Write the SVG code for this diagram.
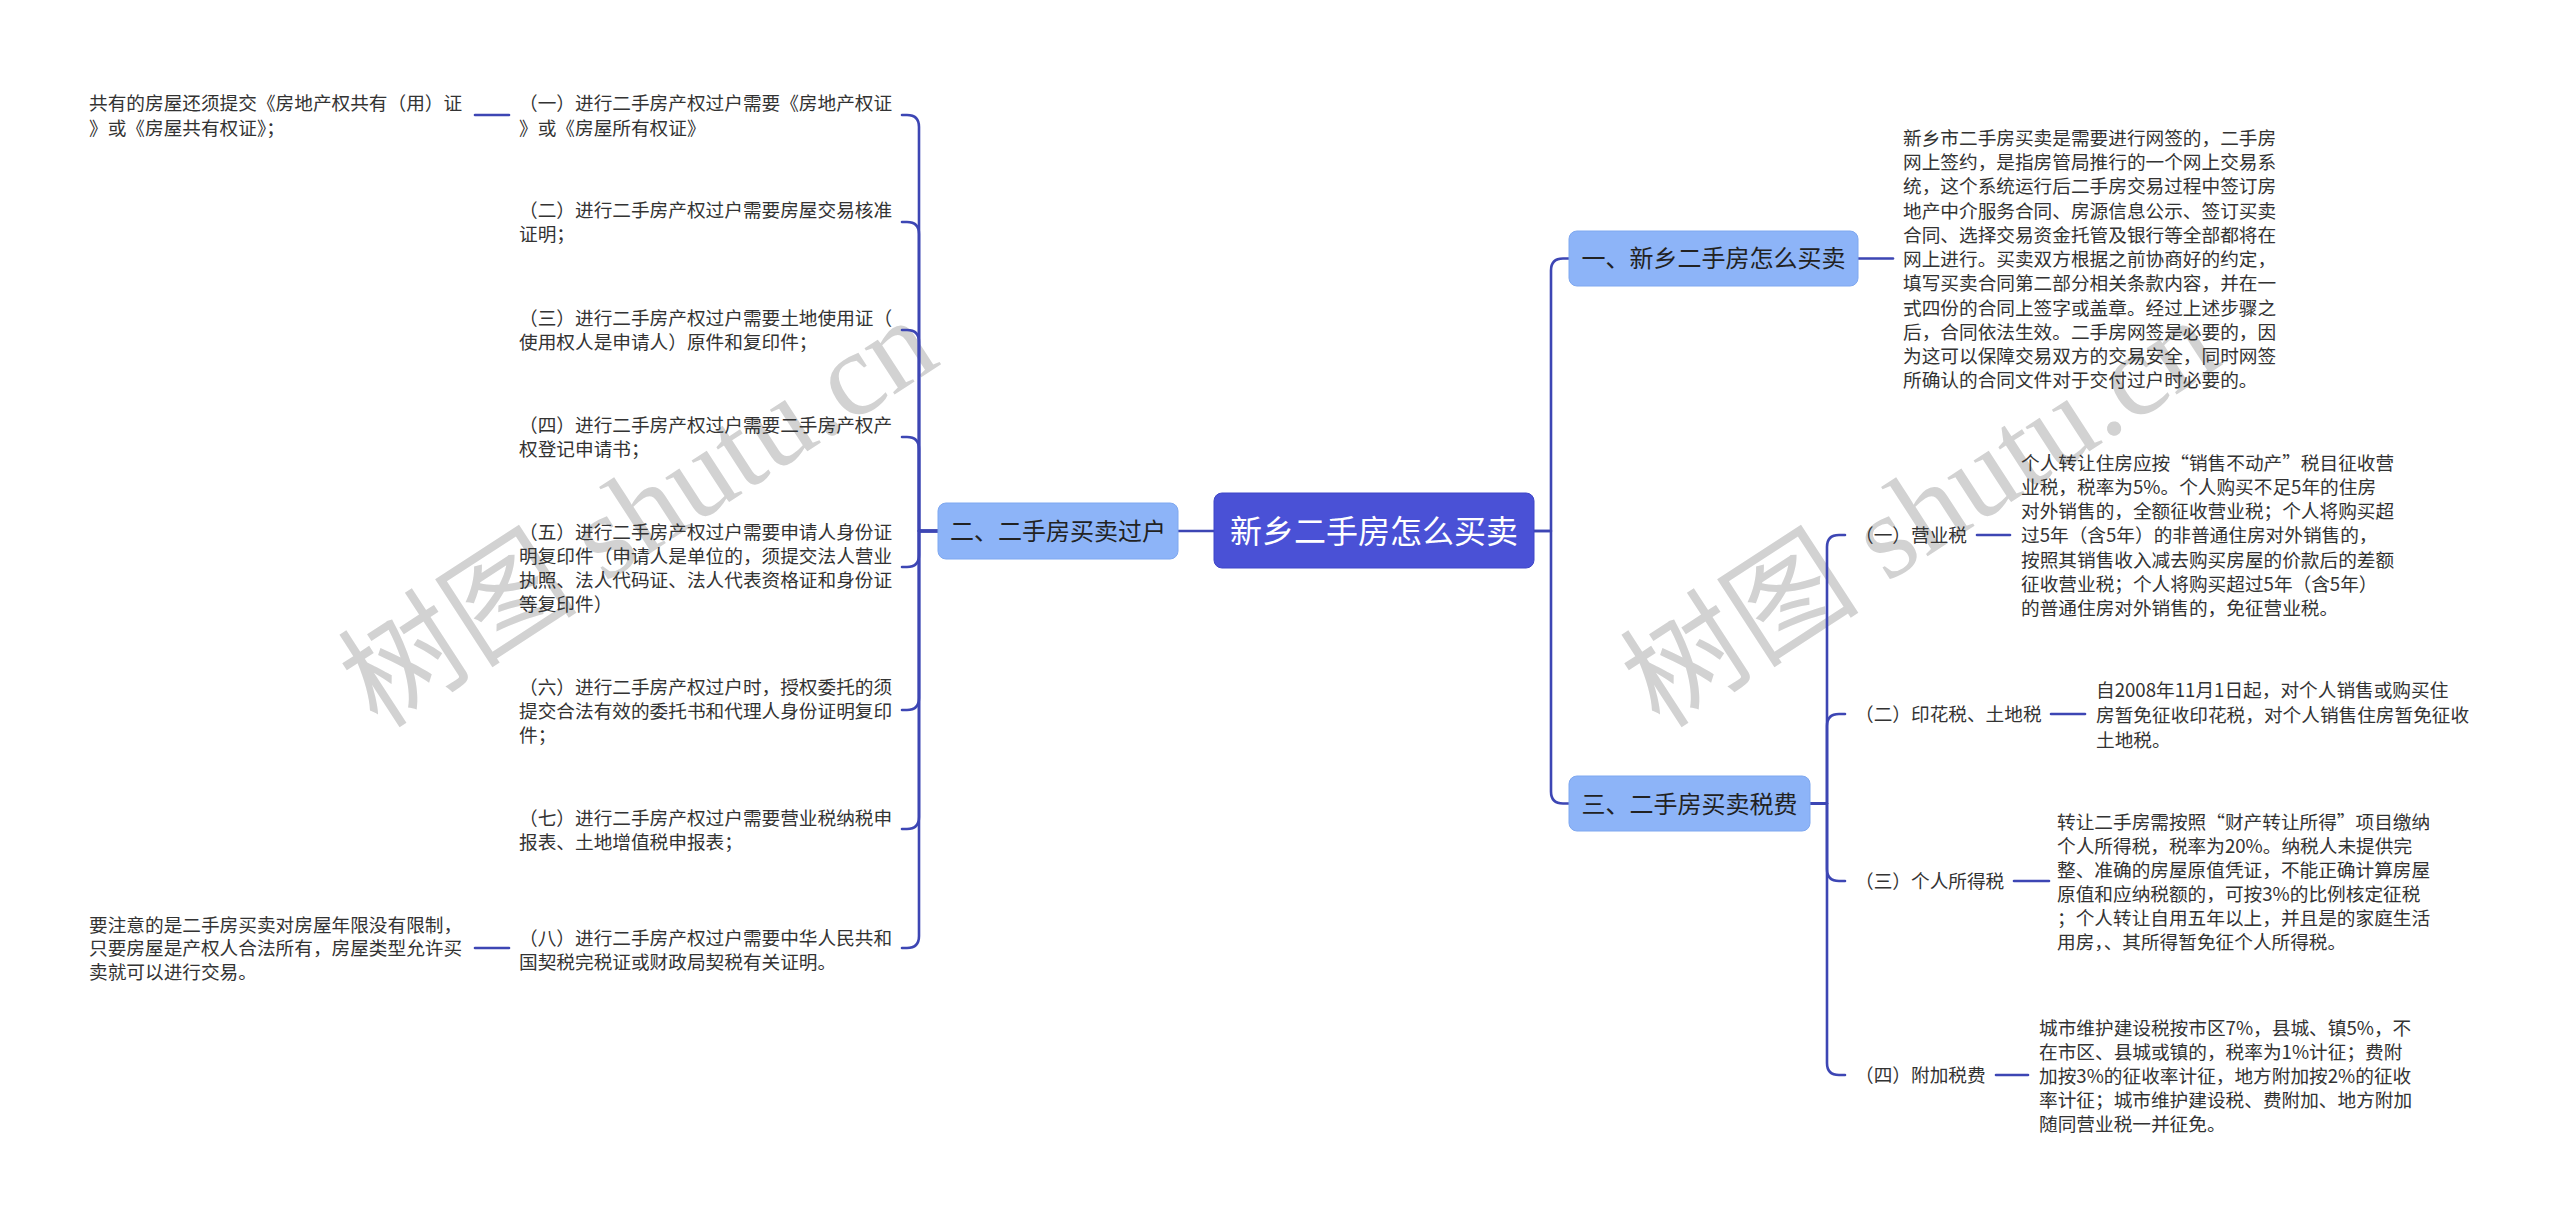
<svg xmlns="http://www.w3.org/2000/svg" width="2560" height="1223" viewBox="0 0 2560 1223">
<style>
.t{font-family:"Noto Sans CJK SC","Noto Sans",sans-serif;font-size:18.67px;fill:#333}
.l1{font-family:"Noto Sans CJK SC","Noto Sans",sans-serif;font-size:24px;fill:#222;text-anchor:middle}
.root{font-family:"Noto Sans CJK SC","Noto Sans",sans-serif;font-size:32px;fill:#fff;text-anchor:middle}
.b1{fill:#8db4f8;stroke:#7fa8f0;stroke-width:1}
.c{fill:none;stroke:#3d46b4;stroke-width:2.6;stroke-linecap:round;stroke-linejoin:round}
.wm{font-family:"Liberation Serif","Noto Sans CJK SC",serif;font-size:120px;fill:#d2d2d2}
</style>
<rect width="2560" height="1223" fill="#fff"/>
<g id="watermarks">
<text class="wm" transform="translate(378,730) rotate(-33)">树图 shutu.cn</text>
<text class="wm" transform="translate(1660,730) rotate(-33)">树图 shutu.cn</text>
</g>
<g id="connectors">
<path class="c" d="M1214 531 H1178"/>
<path class="c" d="M1534 531 H1551 V270.5 Q1551 258.5 1563 258.5 H1569"/>
<path class="c" d="M1534 531 H1551 V791.5 Q1551 803.5 1563 803.5 H1569"/>
<path class="c" d="M1858 258.5 H1893"/>
<path class="c" d="M938 531 H919 V127 Q919 115 907 115 H902"/>
<path class="c" d="M938 531 H919 V234 Q919 222 907 222 H902"/>
<path class="c" d="M938 531 H919 V342 Q919 330 907 330 H902"/>
<path class="c" d="M938 531 H919 V449 Q919 437 907 437 H902"/>
<path class="c" d="M938 531 H919 V555 Q919 567 907 567 H902"/>
<path class="c" d="M938 531 H919 V698 Q919 710 907 710 H902"/>
<path class="c" d="M938 531 H919 V817 Q919 829 907 829 H902"/>
<path class="c" d="M938 531 H919 V936 Q919 948 907 948 H902"/>
<path class="c" d="M509 115 H475"/>
<path class="c" d="M509 948 H475"/>
<path class="c" d="M1810 803.5 H1827 V547 Q1827 535 1839 535 H1845"/>
<path class="c" d="M1810 803.5 H1827 V726 Q1827 714 1839 714 H1845"/>
<path class="c" d="M1810 803.5 H1827 V869 Q1827 881 1839 881 H1845"/>
<path class="c" d="M1810 803.5 H1827 V1063 Q1827 1075 1839 1075 H1845"/>
<path class="c" d="M1977 535 H2010"/>
<path class="c" d="M2051 714 H2085"/>
<path class="c" d="M2014 881 H2049"/>
<path class="c" d="M1996 1075 H2028"/>
</g>
<g id="root">
<rect x="1214" y="493" width="320" height="75" rx="8" fill="#4a51d6" stroke="#3f46c8" stroke-width="1"/>
<text class="root" x="1374" y="542.5">新乡二手房怎么买卖</text>
</g>
<g id="n1">
<rect class="b1" x="1569" y="231" width="289" height="55" rx="8"/>
<text class="l1" x="1713.5" y="267">一、新乡二手房怎么买卖</text>
</g>
<g id="n1-desc">
<text class="t"><tspan x="1903" y="145">新乡市二手房买卖是需要进行网签的，二手房</tspan><tspan x="1903" y="169">网上签约，是指房管局推行的一个网上交易系</tspan><tspan x="1903" y="193">统，这个系统运行后二手房交易过程中签订房</tspan><tspan x="1903" y="218">地产中介服务合同、房源信息公示、签订买卖</tspan><tspan x="1903" y="242">合同、选择交易资金托管及银行等全部都将在</tspan><tspan x="1903" y="266">网上进行。买卖双方根据之前协商好的约定，</tspan><tspan x="1903" y="290">填写买卖合同第二部分相关条款内容，并在一</tspan><tspan x="1903" y="315">式四份的合同上签字或盖章。经过上述步骤之</tspan><tspan x="1903" y="339">后，合同依法生效。二手房网签是必要的，因</tspan><tspan x="1903" y="363">为这可以保障交易双方的交易安全，同时网签</tspan><tspan x="1903" y="387">所确认的合同文件对于交付过户时必要的。</tspan></text>
</g>
<g id="n2">
<rect class="b1" x="938" y="503" width="240" height="56" rx="8"/>
<text class="l1" x="1058" y="540">二、二手房买卖过户</text>
</g>
<g id="n2-1">
<text class="t"><tspan x="519" y="110">（一）进行二手房产权过户需要《房地产权证</tspan><tspan x="519" y="135">》或《房屋所有权证》</tspan></text>
</g>
<g id="n2-1-note">
<text class="t"><tspan x="89" y="110">共有的房屋还须提交《房地产权共有（用）证</tspan><tspan x="89" y="135">》或《房屋共有权证》；</tspan></text>
</g>
<g id="n2-2">
<text class="t"><tspan x="519" y="217">（二）进行二手房产权过户需要房屋交易核准</tspan><tspan x="519" y="241">证明；</tspan></text>
</g>
<g id="n2-3">
<text class="t"><tspan x="519" y="325">（三）进行二手房产权过户需要土地使用证（</tspan><tspan x="519" y="349">使用权人是申请人）原件和复印件；</tspan></text>
</g>
<g id="n2-4">
<text class="t"><tspan x="519" y="432">（四）进行二手房产权过户需要二手房产权产</tspan><tspan x="519" y="456">权登记申请书；</tspan></text>
</g>
<g id="n2-5">
<text class="t"><tspan x="519" y="539">（五）进行二手房产权过户需要申请人身份证</tspan><tspan x="519" y="563">明复印件（申请人是单位的，须提交法人营业</tspan><tspan x="519" y="587">执照、法人代码证、法人代表资格证和身份证</tspan><tspan x="519" y="611">等复印件）</tspan></text>
</g>
<g id="n2-6">
<text class="t"><tspan x="519" y="694">（六）进行二手房产权过户时，授权委托的须</tspan><tspan x="519" y="718">提交合法有效的委托书和代理人身份证明复印</tspan><tspan x="519" y="742">件；</tspan></text>
</g>
<g id="n2-7">
<text class="t"><tspan x="519" y="825">（七）进行二手房产权过户需要营业税纳税申</tspan><tspan x="519" y="849">报表、土地增值税申报表；</tspan></text>
</g>
<g id="n2-8">
<text class="t"><tspan x="519" y="945">（八）进行二手房产权过户需要中华人民共和</tspan><tspan x="519" y="969">国契税完税证或财政局契税有关证明。</tspan></text>
</g>
<g id="n2-8-note">
<text class="t"><tspan x="89" y="932">要注意的是二手房买卖对房屋年限没有限制，</tspan><tspan x="89" y="955">只要房屋是产权人合法所有，房屋类型允许买</tspan><tspan x="89" y="979">卖就可以进行交易。</tspan></text>
</g>
<g id="n3">
<rect class="b1" x="1569" y="776" width="241" height="55" rx="8"/>
<text class="l1" x="1689.5" y="812.5">三、二手房买卖税费</text>
</g>
<g id="n3-1">
<text class="t" x="1855" y="542">（一）营业税</text>
</g>
<g id="n3-1-desc">
<text class="t"><tspan x="2021" y="470">个人转让住房应按“销售不动产”税目征收营</tspan><tspan x="2021" y="494">业税，税率为5%。个人购买不足5年的住房</tspan><tspan x="2021" y="518">对外销售的，全额征收营业税；个人将购买超</tspan><tspan x="2021" y="542">过5年（含5年）的非普通住房对外销售的，</tspan><tspan x="2021" y="567">按照其销售收入减去购买房屋的价款后的差额</tspan><tspan x="2021" y="591">征收营业税；个人将购买超过5年（含5年）</tspan><tspan x="2021" y="615">的普通住房对外销售的，免征营业税。</tspan></text>
</g>
<g id="n3-2">
<text class="t" x="1855" y="721">（二）印花税、土地税</text>
</g>
<g id="n3-2-desc">
<text class="t"><tspan x="2096" y="697">自2008年11月1日起，对个人销售或购买住</tspan><tspan x="2096" y="722">房暂免征收印花税，对个人销售住房暂免征收</tspan><tspan x="2096" y="747">土地税。</tspan></text>
</g>
<g id="n3-3">
<text class="t" x="1855" y="888">（三）个人所得税</text>
</g>
<g id="n3-3-desc">
<text class="t"><tspan x="2057" y="829">转让二手房需按照“财产转让所得”项目缴纳</tspan><tspan x="2057" y="853">个人所得税，税率为20%。纳税人未提供完</tspan><tspan x="2057" y="877">整、准确的房屋原值凭证，不能正确计算房屋</tspan><tspan x="2057" y="901">原值和应纳税额的，可按3%的比例核定征税</tspan><tspan x="2057" y="925">；个人转让自用五年以上，并且是的家庭生活</tspan><tspan x="2057" y="949">用房，、其所得暂免征个人所得税。</tspan></text>
</g>
<g id="n3-4">
<text class="t" x="1855" y="1082">（四）附加税费</text>
</g>
<g id="n3-4-desc">
<text class="t"><tspan x="2039" y="1035">城市维护建设税按市区7%，县城、镇5%，不</tspan><tspan x="2039" y="1059">在市区、县城或镇的，税率为1%计征；费附</tspan><tspan x="2039" y="1083">加按3%的征收率计征，地方附加按2%的征收</tspan><tspan x="2039" y="1107">率计征；城市维护建设税、费附加、地方附加</tspan><tspan x="2039" y="1131">随同营业税一并征免。</tspan></text>
</g>
</svg>
